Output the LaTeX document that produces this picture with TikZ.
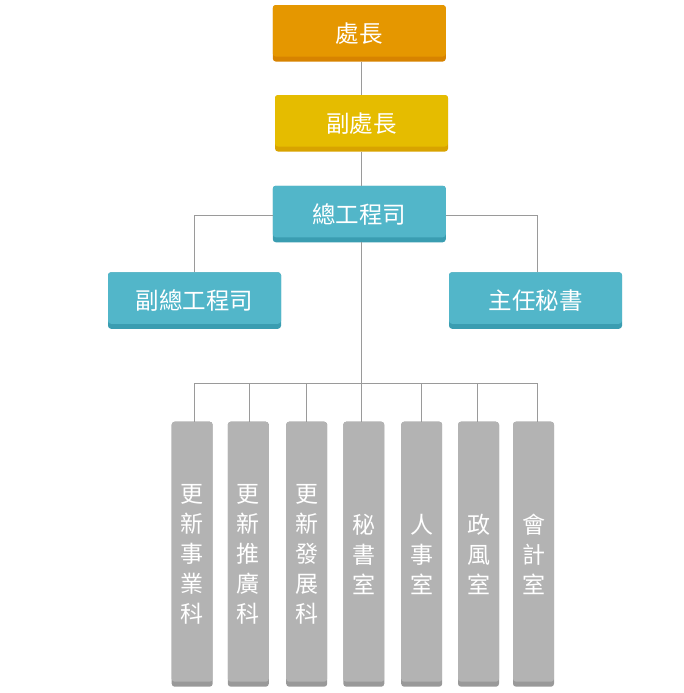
\documentclass[tikz,border=0pt]{standalone}
\usepackage{fontspec}
\newfontfamily\cjk{Noto Sans CJK TC}
\definecolor{cOrange}{HTML}{E59700}
\definecolor{cOrangeD}{HTML}{D78300}
\definecolor{cYellow}{HTML}{E5BC00}
\definecolor{cYellowD}{HTML}{D8A300}
\definecolor{cTeal}{HTML}{52B6C9}
\definecolor{cTealD}{HTML}{3A9DB1}
\definecolor{cGray}{HTML}{B3B3B3}
\definecolor{cGrayD}{HTML}{999999}
\definecolor{cLine}{HTML}{9A9A9A}
\tikzset{
  orgbox/.style 2 args={draw=none, fill=#2, rounded corners=3pt, text=white,
    inner sep=0pt,
    path picture={\fill[#1] (path picture bounding box.north west) rectangle ([yshift=5pt]path picture bounding box.south east);}},
  wide/.style={minimum width=173pt, minimum height=56.5pt, font=\cjk\fontsize{23.5}{28}\selectfont},
  tall/.style={minimum width=41pt, minimum height=265pt, align=center, font=\cjk\fontsize{23}{30}\selectfont},
  conn/.style={draw=cLine, line width=1pt}
}
\begin{document}
\begin{tikzpicture}[x=1pt,y=-1pt]
\useasboundingbox (0,0) rectangle (683,693);
\node[orgbox={cOrange}{cOrangeD}, wide] (a) at (359.3,33.3) {處長};
\node[orgbox={cYellow}{cYellowD}, wide] (b) at (361.5,123.3) {副處長};
\node[orgbox={cTeal}{cTealD}, wide] (c) at (359.3,214) {總工程司};
\node[orgbox={cTeal}{cTealD}, wide] (d) at (194.5,300.5) {副總工程司};
\node[orgbox={cTeal}{cTealD}, wide] (e) at (535.5,300.5) {主任秘書};
\coordinate (spine) at (361,100);
\coordinate (bus) at (361,383);
\node[orgbox={cGray}{cGrayD}, tall] (k1) at (192.2,554.2) {更\\新\\事\\業\\科};
\node[orgbox={cGray}{cGrayD}, tall] (k2) at (248.3,554.2) {更\\新\\推\\廣\\科};
\node[orgbox={cGray}{cGrayD}, tall] (k3) at (306.7,554.2) {更\\新\\發\\展\\科};
\node[orgbox={cGray}{cGrayD}, tall] (k4) at (363.8,554.2) {秘\\書\\室};
\node[orgbox={cGray}{cGrayD}, tall] (k5) at (421.7,554.2) {人\\事\\室};
\node[orgbox={cGray}{cGrayD}, tall] (k6) at (478.5,554.2) {政\\風\\室};
\node[orgbox={cGray}{cGrayD}, tall] (k7) at (533.5,554.2) {會\\計\\室};
\draw[conn] (a.south -| spine) -- (b.north -| spine);
\draw[conn] (b.south -| spine) -- (c.north -| spine);
\draw[conn] (c.south -| spine) -- (bus);
\draw[conn] ([yshift=-1pt]c.west) -| (d.north);
\draw[conn] ([yshift=-1pt]c.east) -| ([xshift=1.5pt]e.north);
\draw[conn] ([xshift=2.1pt]k1.north) |- (bus);
\draw[conn] ([xshift=1pt]k2.north) |- (bus);
\draw[conn] (k3.north) |- (bus);
\draw[conn] ([xshift=-2.5pt]k4.north) -- ([xshift=-2.5pt]k4.north |- bus);
\draw[conn] (k5.north) |- (bus);
\draw[conn] ([xshift=-1.2pt]k6.north) |- (bus);
\draw[conn] ([xshift=4.2pt]k7.north) |- (bus);
\end{tikzpicture}
\end{document}
